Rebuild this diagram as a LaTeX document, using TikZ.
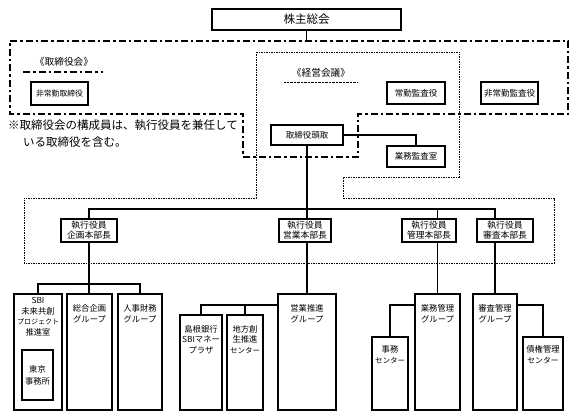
\documentclass[tikz,border=0pt]{standalone}
\usepackage{fontspec}
\setmainfont{Noto Sans CJK JP}
\usetikzlibrary{calc}
\tikzset{
  bx/.style={draw, line width=1.1pt, inner sep=0pt, align=center},
  topbx/.style={bx, font=\fontsize{8.5}{10}\selectfont},
  exbx/.style={bx, minimum width=56pt, minimum height=23pt, font=\fontsize{8.8}{10}\selectfont},
  grp/.style={draw, line width=1.1pt, inner sep=0pt},
  gtxt/.style={font=\fontsize{8.3}{10.5}\selectfont, align=center, inner sep=0pt, anchor=north},
  conn/.style={line width=1.1pt},
  busline/.style={line width=1.7pt},
  dashdot/.style={line width=2pt, dash pattern=on 7pt off 3pt on 2.5pt off 3pt},
  dotline/.style={line width=0.9pt, dash pattern=on 1.5pt off 1pt},
  ttl/.style={inner sep=0pt, font=\fontsize{9.7}{10}\selectfont},
}
\begin{document}
\begin{tikzpicture}[x=1pt, y=-1pt]
\useasboundingbox (0,0) rectangle (576,419);

% frames
\draw[dashdot] (10,41) -- (568,41) -- (568,114) -- (358,114) -- (358,157) -- (243,157) -- (243,114) -- (10,114) -- cycle;
\draw[dotline] (256,52) -- (459,52) -- (459,177) -- (343,177) -- (343,198) -- (554,198) -- (554,263) -- (24,263) -- (24,198) -- (256,198) -- cycle;

% titles
\node[ttl] (torikai) at (64,62) {《取締役会》};
\draw[dashdot] (23,72) -- (103,72);
\node[ttl] (keiei) at (321,73) {《経営会議》};
\draw[line width=1pt, dash pattern=on 0.8pt off 0.6pt] (284,83) -- (358,83);

\node[inner sep=0pt, anchor=west, font=\fontsize{11.5}{17}\selectfont] (note1) at (8,125) {※取締役会の構成員は、執行役員を兼任して};
\node[inner sep=0pt, anchor=west, font=\fontsize{11.5}{17}\selectfont] (note2) at (23,142) {いる取締役を含む。};

% top boxes
\node[bx, minimum width=189pt, minimum height=21pt, font=\fontsize{11.5}{12}\selectfont] (kabu) at (306.5,19.5) {株主総会};
\coordinate (ddtop) at (306.5,41);
\node[topbx, minimum width=57pt, minimum height=23pt, font=\fontsize{7.8}{10}\selectfont] (hjtori) at (59.5,93.5) {非常勤取締役};
\node[topbx, minimum width=58pt, minimum height=22pt] (joukan) at (416,93) {常勤監査役};
\node[topbx, minimum width=57pt, minimum height=22pt] (hjkan) at (509.5,93) {非常勤監査役};
\node[topbx, minimum width=72pt, minimum height=20pt] (tori) at (307,135) {取締役頭取};
\node[topbx, minimum width=58pt, minimum height=21pt] (gyokan) at (416,156.5) {業務監査室};

% executive officers
\coordinate (bus) at (0,209);
\node[exbx] (kikaku) at (89,230.5) {執行役員\\企画本部長};
\node[exbx, minimum width=52pt] (eigyo) at (305,230.5) {執行役員\\営業本部長};
\node[exbx, minimum width=54pt] (kanri) at (429,230.5) {執行役員\\管理本部長};
\node[exbx] (shinsa) at (505,230.5) {執行役員\\審査本部長};

% groups
\node[grp, minimum width=48pt, minimum height=116pt] (sbi) at (38,352) {};
\node[grp, minimum width=31pt, minimum height=50pt, align=center, font=\fontsize{8.3}{12}\selectfont] (tokyo) at (37.5,375) {東京\\事務所};
\node[grp, minimum width=45pt, minimum height=116pt] (sogo) at (89.5,352) {};
\node[grp, minimum width=44pt, minimum height=116pt] (jinji) at (140,352) {};
\node[grp, minimum width=42pt, minimum height=95pt] (shimane) at (201,362.5) {};
\node[grp, minimum width=36pt, minimum height=95pt] (chiho) at (245,362.5) {};
\node[grp, minimum width=58pt, minimum height=116pt] (esuishin) at (307,352) {};
\node[grp, minimum width=36pt, minimum height=73pt] (jimu) at (390,373.5) {};
\node[grp, minimum width=45pt, minimum height=116pt] (gkanri) at (437.5,352) {};
\node[grp, minimum width=44pt, minimum height=116pt] (skanri) at (495,352) {};
\node[grp, minimum width=40pt, minimum height=73pt] (saiken) at (543,373.5) {};

\node[gtxt] (sbit) at ([yshift=-4pt]sbi.north) {SBI\\未来共創\\{\fontsize{7}{10.5}\selectfont プロジェクト}\\推進室};
\node[gtxt] (sogot) at ([yshift=-11pt]sogo.north) {総合企画\\グループ};
\node[gtxt] (jinjit) at ([yshift=-11pt]jinji.north) {人事財務\\グループ};
\node[gtxt] (shimanet) at ([yshift=-10.5pt]shimane.north) {島根銀行\\SBIマネー\\プラザ};
\node[gtxt] (chihot) at ([yshift=-10.5pt]chiho.north) {地方創\\生推進\\{\fontsize{7.5}{10.5}\selectfont センター}};
\node[gtxt] (esuishint) at ([yshift=-11pt]esuishin.north) {営業推進\\グループ};
\node[gtxt] (jimut) at ([yshift=-9pt]jimu.north) {事務\\{\fontsize{7.5}{10.5}\selectfont センター}};
\node[gtxt] (gkanrit) at ([yshift=-11pt]gkanri.north) {業務管理\\グループ};
\node[gtxt] (skanrit) at ([yshift=-11pt]skanri.north) {審査管理\\グループ};
\node[gtxt] (saikent) at ([yshift=-9pt]saiken.north) {債権管理\\{\fontsize{7.8}{10.5}\selectfont センター}};

% connectors
\draw[conn] (kabu.south) -- (ddtop);
\draw[conn] (tori.east) -| (gyokan.north);
\draw[conn] (tori.south) -- (tori.south |- eigyo.north);
\draw[busline] (kikaku.north) -- (kikaku.north |- bus) -- (skanri.north |- bus) -- (skanri.north |- shinsa.north);
\draw[conn] (gkanri.north |- bus) -- (gkanri.north |- kanri.north);

\coordinate (sub1) at (0,284);
\draw[conn] (kikaku.south) -- (kikaku.south |- sogo.north);
\draw[conn] (sbi.north) -- (sbi.north |- sub1) -- (jinji.north |- sub1) -- (jinji.north);
\draw[conn] (esuishin.north |- eigyo.south) -- (esuishin.north);
\draw[conn] (gkanri.north |- kanri.south) -- (gkanri.north);
\draw[conn] (skanri.north |- shinsa.south) -- (skanri.north);

\coordinate (sub2) at (0,305);
\draw[conn] (esuishin.west |- sub2) -| (shimane.north);
\draw[conn] (chiho.north |- sub2) -- (chiho.north);
\draw[conn] (gkanri.west |- sub2) -| (jimu.north);
\draw[conn] (skanri.east |- sub2) -| (saiken.north);
\end{tikzpicture}
\end{document}
